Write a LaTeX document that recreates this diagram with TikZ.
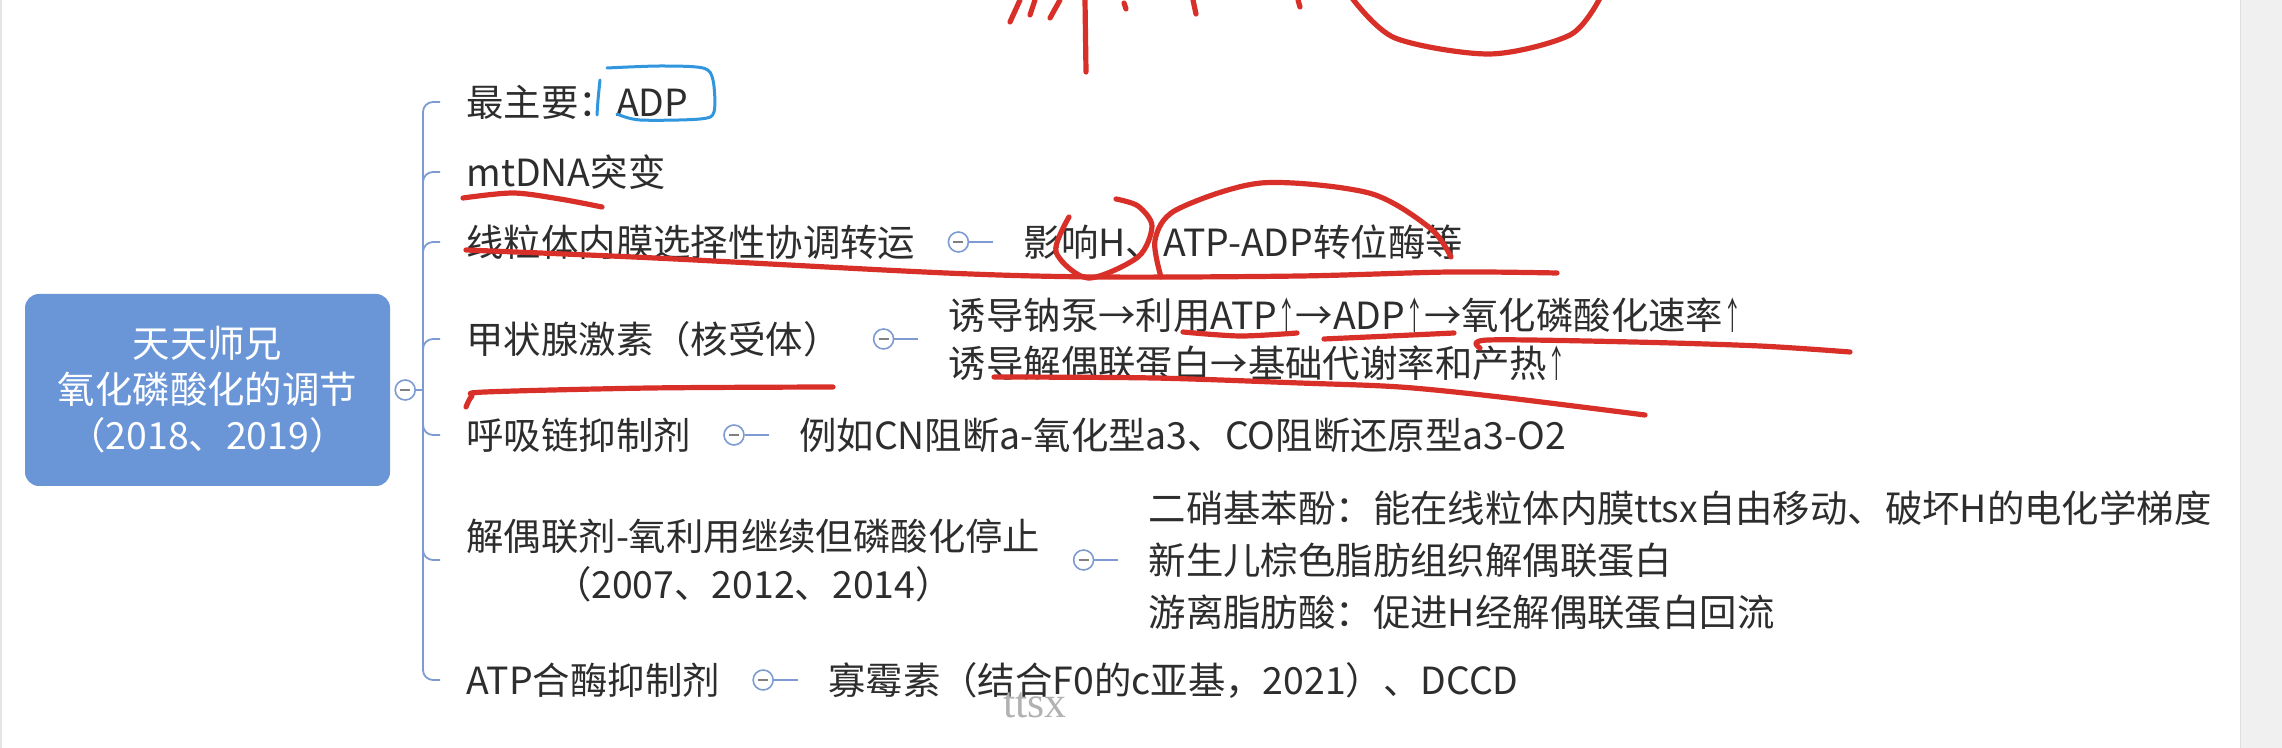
\documentclass[tikz,border=0pt]{standalone}
\usepackage{graphicx}
\usepackage{fontspec}
\setmainfont{Noto Sans CJK SC}
\newfontfamily\markfont{Liberation Serif}
\newcommand\uparr{\scalebox{0.5}[1]{↑}}
\usetikzlibrary{positioning}
\definecolor{topicblue}{RGB}{106,150,216}
\definecolor{linkblue}{RGB}{125,155,210}
\definecolor{textgray}{RGB}{45,45,45}
\definecolor{penred}{RGB}{216,48,40}
\definecolor{penblue}{RGB}{48,150,222}
\tikzset{
  topic/.style={font=\fontsize{18.7pt}{24pt}\selectfont, text=textgray},
  branch/.style={topic, anchor=west, inner xsep=13pt, inner ysep=2pt},
  leaf/.style={topic, anchor=west, inner xsep=15pt, inner ysep=2pt, align=left},
  fold/.style={circle, draw=linkblue, fill=white, line width=0.8pt, minimum size=10pt, inner sep=0pt,
    path picture={\draw[gray, line width=0.6pt] ([xshift=-2.5pt]path picture bounding box.center)
      -- ([xshift=2.5pt]path picture bounding box.center);}},
  link/.style={draw=linkblue, line width=0.9pt, rounded corners=5pt},
  pen/.style={draw=penred, line width=2.6pt, line cap=round, line join=round},
  bluepen/.style={draw=penblue, line width=1.5pt, line cap=round, line join=round}
}
\begin{document}
\begin{tikzpicture}[x=0.5pt, y=-0.5pt]
\fill[white] (0,0) rectangle (2282,748);
\useasboundingbox (0,0) rectangle (2282,748);
\fill[gray!12] (2240,0) rectangle (2282,748);
\draw[gray!25] (2240,0) -- (2240,748);
\draw[gray!20, line width=1pt] (1,0) -- (1,748);

\node[fill=topicblue, text=white, rounded corners=7pt, minimum width=182.5pt, minimum height=96pt,
      align=center, font=\fontsize{18.7pt}{23pt}\selectfont] (main) at (207.5,390)
      {天天师兄\\氧化磷酸化的调节\\（2018、2019）};
\node[fold, right=2pt of main] (c0) {};
\coordinate (hub) at ([xshift=3.5pt]c0.east);
\draw[link] (c0) -- (hub);

\node[branch] (b1) at (440,102) {最主要：ADP};
\node[branch] (b2) at (440,172) {mtDNA突变};
\node[branch] (b3) at (440,242) {线粒体内膜选择性协调转运};
\node[branch] (b4) at (440,339) {甲状腺激素（核受体）};
\node[branch] (b5) at (440,435) {呼吸链抑制剂};
\node[branch, align=center] (b6) at (440,560) {解偶联剂-氧利用继续但磷酸化停止\\（2007、2012、2014）};
\node[branch] (b7) at (440,680) {ATP合酶抑制剂};
\foreach \i in {1,...,7}
  \draw[link] (hub) |- (b\i.west);

\foreach \i in {3,...,7}
  \node[fold, right=3pt of b\i] (c\i) {};

\node[leaf, right=12pt of c3] (l3) {影响H、ATP-ADP转位酶等};
\node[leaf, right=12pt of c4] (l4) {诱导钠泵→利用ATP\uparr→ADP\uparr→氧化磷酸化速率\uparr\\诱导解偶联蛋白→基础代谢率和产热\uparr};
\node[leaf, right=12pt of c5] (l5) {例如CN阻断a-氧化型a3、CO阻断还原型a3-O2};
\node[leaf, right=12pt of c6, font=\fontsize{18.7pt}{26pt}\selectfont] (l6)
  {二硝基苯酚：能在线粒体内膜ttsx自由移动、破坏H的电化学梯度\\新生儿棕色脂肪组织解偶联蛋白\\游离脂肪酸：促进H经解偶联蛋白回流};
\node[leaf, right=12pt of c7] (l7) {寡霉素（结合F0的c亚基，2021）、DCCD};
\foreach \i in {3,...,7}
  \draw[link] (c\i) -- (l\i);

\node[font=\markfont\fontsize{22pt}{22pt}\selectfont, text=gray!60] (wm) at (1035,705) {ttsx};

% handwritten marks
\draw[bluepen] plot[smooth] coordinates {(600,80) (598,100) (597,115)};
\draw[bluepen] plot[smooth] coordinates {(607,68) (660,66) (703,68) (713,80) (714,112) (700,119) (640,120) (617,114)};
\draw[pen] plot[smooth] coordinates {(463,198) (513,193) (560,199) (602,207)};
\draw[pen] plot[smooth] coordinates {(466,250) (655,258) (946,273) (1100,277) (1300,276) (1450,272) (1557,273)};
\draw[pen] plot[smooth] coordinates {(1069,217) (1056,252) (1088,278) (1138,257) (1152,226) (1138,206) (1116,199)};
\draw[pen] plot[smooth] coordinates {(1161,277) (1155,240) (1176,210) (1261,183) (1369,193) (1430,228) (1451,257)};
\draw[pen] plot[smooth] coordinates {(1183,332) (1240,336) (1297,333)};
\draw[pen] plot[smooth] coordinates {(1324,339) (1390,336) (1454,333)};
\draw[pen] plot[smooth] coordinates {(1480,348) (1488,340) (1633,342) (1760,346) (1850,352)};
\draw[pen] plot[smooth] coordinates {(994,377) (1154,378) (1300,383) (1400,387) (1500,397) (1645,415)};
\draw[pen] plot[smooth] coordinates {(466,407) (472,396) (485,392) (650,388) (833,387)};
\draw[pen] (1085,0) -- (1086,72);
\draw[pen] (1010,22) -- (1020,0);
\draw[pen] (1030,15) -- (1035,0);
\draw[pen] (1050,18) -- (1060,0);
\draw[pen] (1124,3) -- (1126,9);
\draw[pen] (1193,0) -- (1196,14);
\draw[pen] (1298,0) -- (1300,7);
\draw[pen] plot[smooth] coordinates {(1352,-2) (1395,38) (1490,54) (1570,35) (1600,-2)};
\end{tikzpicture}
\end{document}
